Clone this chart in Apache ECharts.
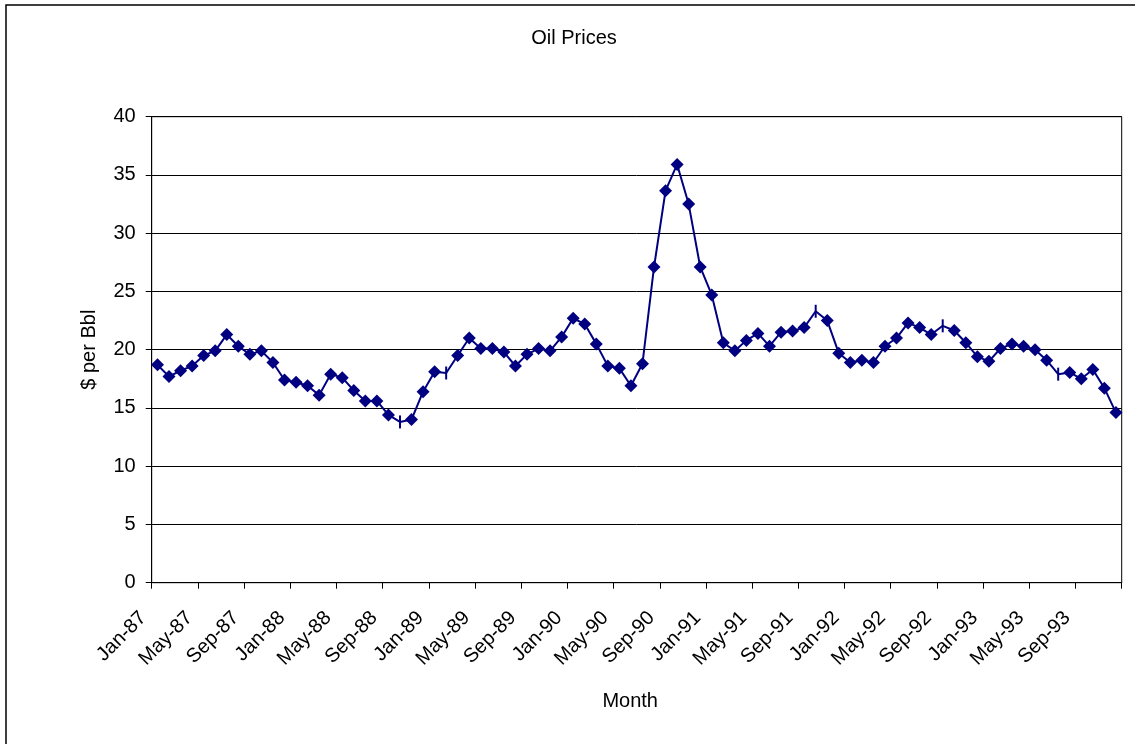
<!DOCTYPE html>
<html>
<head>
<meta charset="utf-8">
<script src="https://cdn.jsdelivr.net/npm/echarts@6/dist/echarts.min.js"></script>
<style>
html,body{margin:0;padding:0;background:#fff;}
#chart{width:1135px;height:744px;}
</style>
</head>
<body>
<div id="chart"></div>
<script>
var monthNames = ['Jan','Feb','Mar','Apr','May','Jun','Jul','Aug','Sep','Oct','Nov','Dec'];
var years = ['87','88','89','90','91','92','93'];
var prices = [
  18.7,17.7,18.2,18.6,19.5,19.9,21.3,20.3,19.6,19.9,18.9,17.4,
  17.2,16.9,16.1,17.9,17.6,16.5,15.6,15.6,14.4,13.8,14.0,16.4,
  18.1,18.0,19.5,21.0,20.1,20.1,19.8,18.6,19.6,20.1,19.9,21.1,
  22.7,22.2,20.5,18.6,18.4,16.9,18.8,27.1,33.65,35.9,32.5,27.1,
  24.7,20.6,19.9,20.8,21.4,20.3,21.5,21.6,21.9,23.3,22.5,19.7,
  18.9,19.1,18.9,20.3,21.0,22.3,21.9,21.3,22.05,21.65,20.6,19.4,
  19.0,20.1,20.5,20.3,20.0,19.1,17.9,18.05,17.5,18.3,16.7,14.6
];
var dashMonths = ['Oct-88','Feb-89','Oct-91','Sep-92','Jul-93'];
var yTicks = [0,5,10,15,20,25,30,35,40];

var months = [];
years.forEach(function(y){ monthNames.forEach(function(m){ months.push(m + '-' + y); }); });

var seriesData = prices.map(function(v, i){
  if (dashMonths.indexOf(months[i]) >= 0) {
    return { value: v, symbol: 'rect', symbolSize: [2, 13] };
  }
  return v;
});

var font = 'Liberation Sans, Arial, sans-serif';
var chart = echarts.init(document.getElementById('chart'));
chart.setOption({
  animation: false,
  backgroundColor: '#fff',
  title: {
    text: 'Oil Prices', left: 569, top: 23, textAlign: 'center',
    textStyle: { fontFamily: font, fontSize: 20, fontWeight: 'normal', color: '#000' }
  },
  graphic: [{
    type: 'rect', silent: true,
    shape: { x: 6, y: 5, width: 1200, height: 800 },
    style: { fill: null, stroke: '#000', lineWidth: 1.5 }
  }],
  grid: { left: 151.7, top: 116.7, right: 13.3, bottom: 161.3, show: true, borderColor: '#000', borderWidth: 1 },
  xAxis: {
    type: 'category', data: months, boundaryGap: true,
    name: 'Month', nameLocation: 'middle', nameGap: 109,
    nameTextStyle: { fontFamily: font, fontSize: 20, color: '#000', padding: [0, 13, 0, 0] },
    axisLine: { lineStyle: { color: '#000', width: 1 } },
    axisTick: { show: true, interval: 3, length: 6, lineStyle: { color: '#000' } },
    axisLabel: { interval: 3, rotate: 45, margin: 18, padding: [0, 20, 0, 0], fontFamily: font, fontSize: 20, color: '#000' },
    splitLine: { show: false }
  },
  yAxis: {
    type: 'value', min: yTicks[0], max: yTicks[yTicks.length - 1], interval: 5,
    name: '$ per Bbl', nameLocation: 'middle', nameGap: 52,
    nameTextStyle: { fontFamily: font, fontSize: 20, color: '#000' },
    axisLine: { show: true, lineStyle: { color: '#000', width: 1 } },
    axisTick: { show: true, length: 6, lineStyle: { color: '#000' } },
    axisLabel: { margin: 16, fontFamily: font, fontSize: 20, color: '#000' },
    splitLine: { show: true, lineStyle: { color: '#000', width: 1 } }
  },
  series: [{
    type: 'line', data: seriesData,
    symbol: 'diamond', symbolSize: 13, showAllSymbol: true,
    lineStyle: { color: '#000080', width: 2 },
    itemStyle: { color: '#000080' }
  }]
});
</script>
</body>
</html>
